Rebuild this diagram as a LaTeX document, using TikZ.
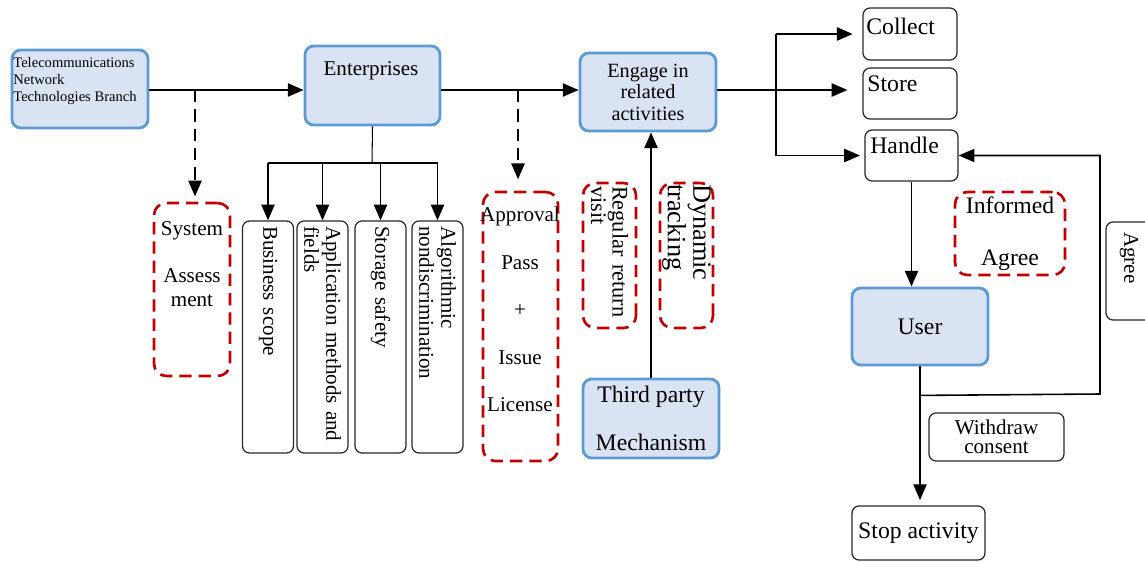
\documentclass[tikz,border=0pt]{standalone}
\usepackage{fontspec}
\setmainfont{Liberation Serif}
\usepackage{tikz}
\usetikzlibrary{arrows.meta, positioning}
\definecolor{BoxBlue}{HTML}{5B9BD5}
\definecolor{BoxFill}{HTML}{DAE3F3}
\definecolor{DashRed}{HTML}{C00000}
\newcommand{\pxu}{0.02cm}

\begin{document}
\begin{tikzpicture}[x=0.02cm, y=-0.02cm,
    font=\fontsize{12}{13}\selectfont,
    bluebox/.style={draw=BoxBlue, line width=1.6pt, fill=BoxFill, rounded corners=5pt, inner sep=0pt},
    redbox/.style={draw=DashRed, line width=1.5pt, dash pattern=on 7pt off 4pt, rounded corners=7pt, inner sep=0pt},
    plainbox/.style={draw=black!85, line width=0.7pt, rounded corners=4pt, inner sep=0pt},
    vbox/.style={plainbox, rotate=-90, align=left, inner xsep=5*\pxu, text width=222*\pxu,
        minimum width=232*\pxu, minimum height=51*\pxu, font=\fontsize{12}{12.5}\selectfont},
    arr/.style={-{Triangle[length=9pt,width=7.5pt]}, line width=1.1pt},
    darr/.style={arr, dash pattern=on 7pt off 4pt}]
    \useasboundingbox (0,0) rectangle (1145,561);

    % Main row
    \coordinate (row) at (0,90);
    \node[bluebox, minimum width=136*\pxu, minimum height=78*\pxu] (tele) at (80,89) {};
    \node[anchor=north west, align=left, inner sep=0pt, font=\fontsize{8.3}{9.6}\selectfont] (tele-t) at (13,57)
        {Telecommunications\\Network\\Technologies Branch};
    \node[bluebox, minimum width=135*\pxu, minimum height=79*\pxu] (ent) at (372.5,85.5) {};
    \node[anchor=base, inner sep=0pt] (ent-t) at (371,75) {Enterprises};
    \node[bluebox, minimum width=136*\pxu, minimum height=78*\pxu, align=center,
        font=\fontsize{11.5}{12.2}\selectfont] (engage) at (648,92) {Engage in\\related\\activities};

    % Checks below the enterprises
    \node[redbox, minimum width=76*\pxu, minimum height=173*\pxu] (sys) at (192,289.5) {};
    \node[anchor=north, align=center, inner sep=0pt, font=\fontsize{12}{14}\selectfont] (sys-t) at (192,221)
        {System\\[12.6pt]Assess\\ment};
    \node[vbox] (bs) at (268,337) {Business scope};
    \node[vbox] (app) at (322.5,337) {Application methods and\\fields};
    \node[vbox] (stor) at (380.5,337) {Storage safety};
    \node[vbox] (alg) at (437.5,337) {Algorithmic\\nondiscrimination};

    % Licence and supervision
    \node[redbox, minimum width=75*\pxu, minimum height=269*\pxu] (appr) at (520.5,326.5) {};
    \node[anchor=north, align=center, inner sep=0pt, font=\fontsize{12}{27}\selectfont] (appr-t) at (520,207)
        {Approval\\Pass\\+\\Issue\\License};
    \node[redbox, rotate=-90, minimum width=145*\pxu, minimum height=53*\pxu, align=left,
        inner xsep=3*\pxu, text width=139*\pxu, font=\fontsize{12.7}{8}\selectfont] (reg) at (609.5,255.5)
        {Regular return\\visit};
    \node[redbox, rotate=-90, minimum width=145*\pxu, minimum height=53*\pxu, align=left,
        inner xsep=1*\pxu, text width=143*\pxu, font=\fontsize{15}{12.5}\selectfont] (dyn) at (686.5,255.5)
        {Dynamic\\tracking};
    \node[bluebox, minimum width=136*\pxu, minimum height=79*\pxu, align=center,
        font=\fontsize{13.5}{27}\selectfont] (third) at (651,418.5) {Third party\\Mechanism};

    % Data handling and the user
    \node[plainbox, minimum width=94*\pxu, minimum height=52*\pxu] (collect) at (910,34) {};
    \node[anchor=base west, inner sep=0pt, font=\fontsize{13.5}{15}\selectfont] (collect-t) at (866,34) {Collect};
    \node[plainbox, minimum width=94*\pxu, minimum height=51*\pxu] (store) at (910,93.5) {};
    \node[anchor=base west, inner sep=0pt, font=\fontsize{13.5}{15}\selectfont] (store-t) at (867,91) {Store};
    \node[plainbox, minimum width=93*\pxu, minimum height=51*\pxu] (handle) at (911.5,155.5) {};
    \node[anchor=base west, inner sep=0pt, font=\fontsize{13.5}{15}\selectfont] (handle-t) at (870,153) {Handle};
    \node[redbox, minimum width=110*\pxu, minimum height=83*\pxu, align=center,
        font=\fontsize{13.5}{29.5}\selectfont] (informed) at (1010,233.5) {Informed\\Agree};
    \node[plainbox, rotate=-90, minimum width=98*\pxu, minimum height=46*\pxu, align=left,
        inner xsep=10*\pxu, text width=78*\pxu] (agree) at (1129,271) {Agree};
    \node[bluebox, minimum width=136*\pxu, minimum height=77*\pxu,
        font=\fontsize{13.5}{15}\selectfont] (user) at (920,326.5) {User};
    \node[plainbox, minimum width=135*\pxu, minimum height=48*\pxu, align=center,
        font=\fontsize{12}{10.8}\selectfont] (withdraw) at (996.5,437) {Withdraw\\consent};
    \node[plainbox, minimum width=133*\pxu, minimum height=54*\pxu,
        font=\fontsize{13.5}{15}\selectfont] (stop) at (918.5,533) {Stop activity};

    % Connectors
    \coordinate (tsplit) at (195,90);
    \coordinate (esplit) at (518,90);
    \draw[arr] (tele.east |- row) -- (row -| ent.west);
    \draw[darr, shorten >=3pt] (tsplit) -- (tsplit |- sys.north);
    \draw[arr] (ent.east |- row) -- (row -| engage.west);
    \draw[darr, shorten >=6.5pt] (esplit) -- (esplit |- appr.north);

    \coordinate (ebr) at (372,163);
    \draw[line width=0.6pt] (ent.south) -- (ebr);
    \draw[line width=1.1pt] (ebr -| bs.west) -- (ebr -| alg.west);
    \foreach \b in {bs,app,stor,alg}
        \draw[arr] (ebr -| \b.west) -- (\b.west);

    \draw[arr] (third.north) -- (third.north |- engage.south);

    \coordinate (fork) at (776,90);
    \draw[line width=1.1pt] (engage.east |- row) -- (fork);
    \draw[line width=1.1pt] (fork |- collect) -- (fork |- handle);
    \draw[arr, shorten >=5.5pt] (fork |- collect) -- (collect.west);
    \draw[arr, shorten >=8.5pt] (fork) -- (fork -| store.west);
    \draw[arr, shorten >=2.5pt] (fork |- handle) -- (handle.west);

    \draw[arr] (handle.south) -- (handle.south |- user.north);
    \draw[arr, shorten >=3pt] (user.south) -- (user.south |- stop.north);
    \path (user.south) ++(0,29) coordinate (fb);
    \coordinate (fbr) at (1100,394);
    \draw[arr, line width=0.9pt] (fb) -- (fbr) |- (handle.east);
\end{tikzpicture}
\end{document}
